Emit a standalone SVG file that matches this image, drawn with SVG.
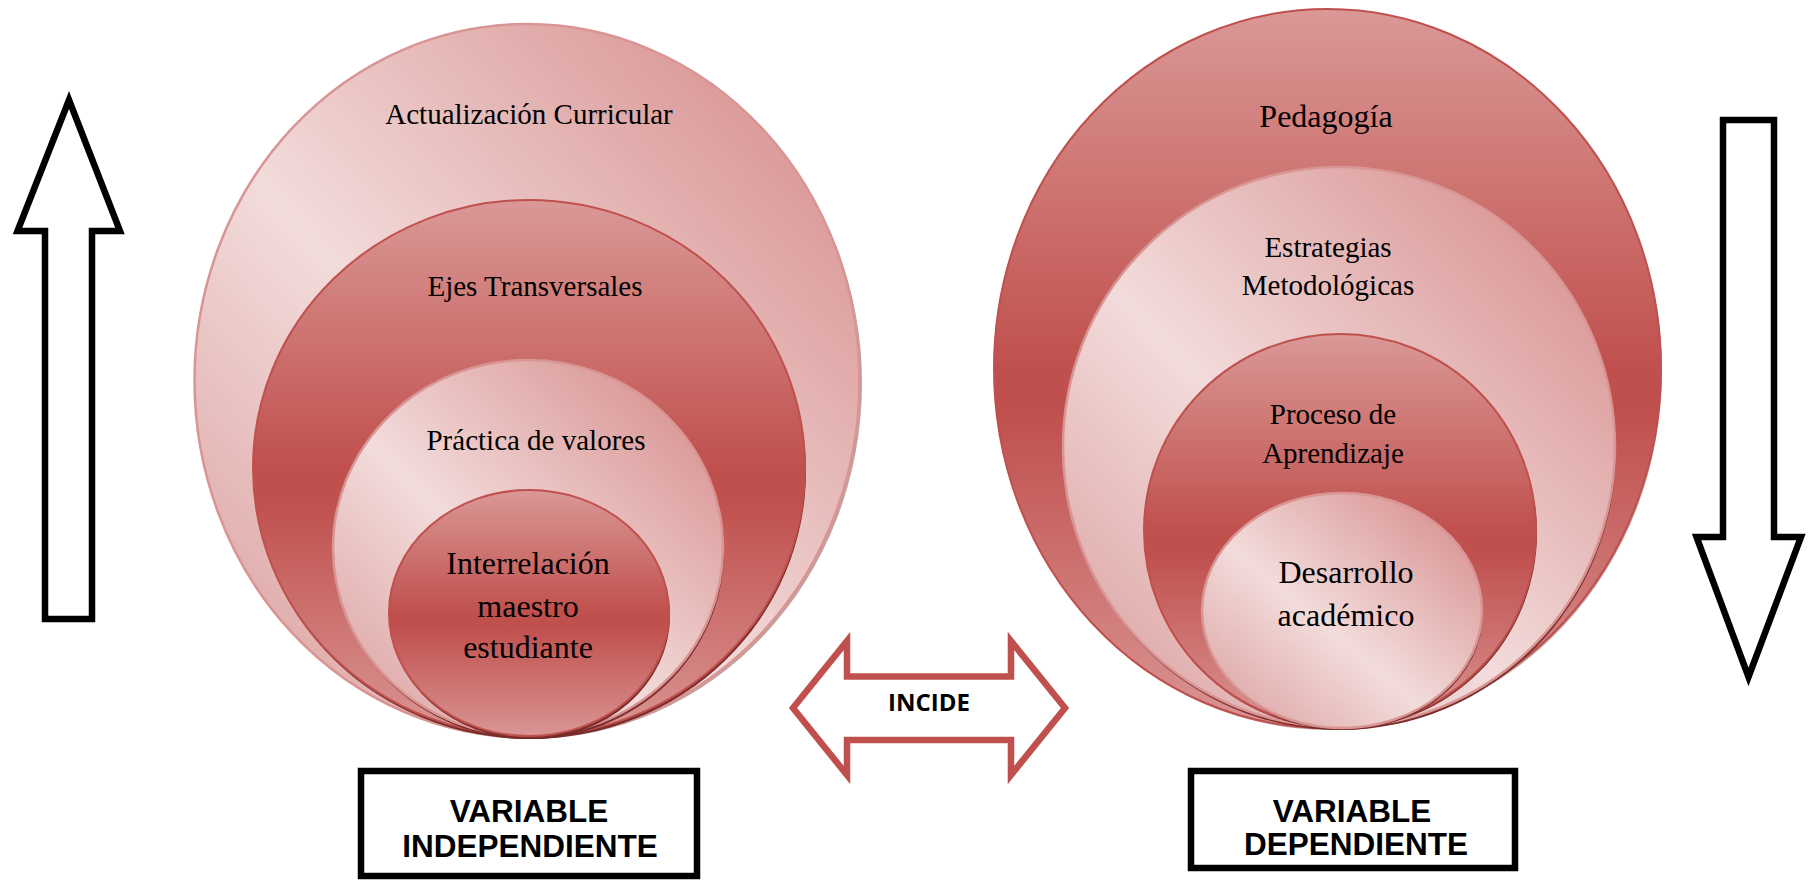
<svg xmlns="http://www.w3.org/2000/svg" width="1815" height="881" viewBox="0 0 1815 881">
  <defs>
    <linearGradient id="gLight" x1="0.1" y1="0.9" x2="0.9" y2="0.1">
      <stop offset="0" stop-color="#dfaaa9"/>
      <stop offset="0.42" stop-color="#f2dcdb"/>
      <stop offset="1" stop-color="#d99594"/>
    </linearGradient>
    <linearGradient id="gDark" x1="0" y1="0" x2="0" y2="1">
      <stop offset="0" stop-color="#da9896"/>
      <stop offset="0.5" stop-color="#c0504d"/>
      <stop offset="0.56" stop-color="#c0504d"/>
      <stop offset="1" stop-color="#d99594"/>
    </linearGradient>
    <style>
      .light { fill: url(#gLight); stroke: #d99594; stroke-width: 2.5; }
      .dark { fill: url(#gDark); stroke: #c0504d; stroke-width: 2; }
      .shadow { fill: #7a2c2a; }
      .lbl { font-family: "Liberation Serif", "Times New Roman", serif; fill: #000; text-anchor: middle; }
      .box { fill: #fff; stroke: #000; stroke-width: 6.5; }
      .boxtxt { font-family: "Liberation Sans", Arial, sans-serif; font-weight: bold; font-size: 31.5px; fill: #000; text-anchor: middle; }
      .blk { fill: #fff; stroke: #000; stroke-width: 6.5; stroke-linejoin: miter; }
      .incide { fill: #fff; stroke: #c0504d; stroke-width: 6.5; stroke-linejoin: miter; }
    </style>
  </defs>

  <!-- Left nested ellipses -->
  <g id="actualizacion">
    <ellipse class="shadow" cx="529" cy="383" rx="333" ry="356" fill-opacity="0.45"/>
    <ellipse class="light" cx="527" cy="380.5" rx="332.5" ry="356.5"/>
    <text class="lbl" x="529" y="124" font-size="29">Actualización Curricular</text>
  </g>
  <g id="ejes">
    <ellipse class="shadow" cx="530" cy="471" rx="276" ry="268"/>
    <ellipse class="dark" cx="529" cy="468" rx="276" ry="268"/>
    <text class="lbl" x="535" y="296" font-size="29">Ejes Transversales</text>
  </g>
  <g id="practica">
    <ellipse class="shadow" cx="529" cy="551" rx="195" ry="188"/>
    <ellipse class="light" cx="528" cy="548" rx="195" ry="188"/>
    <text class="lbl" x="536" y="450" font-size="29">Práctica de valores</text>
  </g>
  <g id="interrelacion">
    <ellipse class="shadow" cx="530" cy="616" rx="140" ry="123"/>
    <ellipse class="dark" cx="529" cy="613" rx="140" ry="123"/>
    <text class="lbl" x="528" y="574" font-size="32">Interrelación</text>
    <text class="lbl" x="528" y="617" font-size="32">maestro</text>
    <text class="lbl" x="528" y="658" font-size="32">estudiante</text>
  </g>

  <!-- Right nested ellipses -->
  <g id="pedagogia">
    <ellipse class="shadow" cx="1329" cy="371" rx="333" ry="359" fill-opacity="0.45"/>
    <ellipse class="dark" cx="1327.5" cy="368.5" rx="333.5" ry="359.5"/>
    <text class="lbl" x="1326" y="127" font-size="32">Pedagogía</text>
  </g>
  <g id="estrategias">
    <ellipse class="shadow" cx="1340" cy="450" rx="276" ry="280"/>
    <ellipse class="light" cx="1339" cy="447" rx="276" ry="280"/>
    <text class="lbl" x="1328" y="257" font-size="29">Estrategias</text>
    <text class="lbl" x="1328" y="295" font-size="29">Metodológicas</text>
  </g>
  <g id="proceso">
    <ellipse class="shadow" cx="1341" cy="533" rx="196" ry="196"/>
    <ellipse class="dark" cx="1340" cy="530.5" rx="196" ry="196.5"/>
    <text class="lbl" x="1333" y="424" font-size="29">Proceso de</text>
    <text class="lbl" x="1333" y="463" font-size="29">Aprendizaje</text>
  </g>
  <g id="desarrollo">
    <ellipse class="shadow" cx="1343" cy="613" rx="140" ry="117"/>
    <ellipse class="light" cx="1342" cy="610.5" rx="140" ry="117.5"/>
    <text class="lbl" x="1346" y="583" font-size="32">Desarrollo</text>
    <text class="lbl" x="1346" y="626" font-size="32">académico</text>
  </g>

  <!-- Side block arrows -->
  <g id="arrow-up">
    <polygon class="blk" points="69,100 120,231 92,231 92,619 45,619 45,231 17.5,231"/>
  </g>
  <g id="arrow-down">
    <polygon class="blk" points="1723,120 1774,120 1774,537 1801,537 1748.5,677 1696.5,537 1723,537"/>
  </g>

  <!-- Connectors -->
  <g id="connectors">
    <polygon class="incide" points="793,708 847,641 847,676.5 1011,676.5 1011,641 1065,708 1011,775 1011,740 847,740 847,775"/>
    <text x="929" y="711" font-family="'Open Sans', 'Liberation Sans', sans-serif" font-weight="bold" font-size="24" text-anchor="middle" fill="#000">INCIDE</text>
  </g>

  <!-- Variable boxes -->
  <g id="var-independiente">
    <rect class="box" x="361" y="771" width="336" height="105"/>
    <text class="boxtxt" x="529" y="822">VARIABLE</text>
    <text class="boxtxt" x="530" y="857">INDEPENDIENTE</text>
  </g>
  <g id="var-dependiente">
    <rect class="box" x="1191" y="771" width="324" height="97"/>
    <text class="boxtxt" x="1352" y="822">VARIABLE</text>
    <text class="boxtxt" x="1356" y="855">DEPENDIENTE</text>
  </g>
</svg>
